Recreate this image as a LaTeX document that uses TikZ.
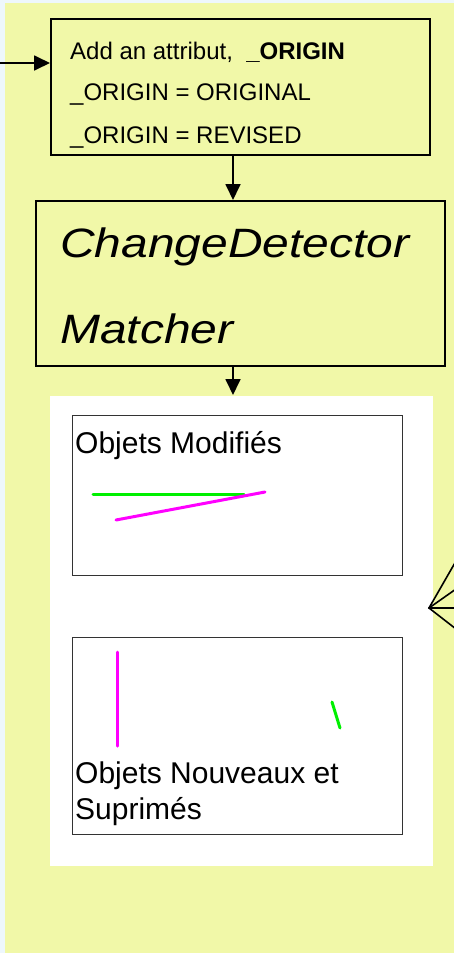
\documentclass[tikz,border=0pt]{standalone}
\usepackage{fontspec}
\setmainfont{Liberation Sans}
\usetikzlibrary{arrows.meta}
\definecolor{bgblue}{HTML}{EEF7FC}
\definecolor{panelyellow}{HTML}{F1F8A8}
\definecolor{linegreen}{HTML}{00F000}
\definecolor{linemagenta}{HTML}{FF00FF}
\definecolor{innerframe}{HTML}{333333}
\tikzset{
  flowbox/.style={draw=black, line width=2pt, fill=panelyellow, inner sep=0pt, anchor=north west},
  innerbox/.style={draw=innerframe, line width=1pt, fill=white, inner sep=0pt, anchor=north west},
  txt/.style={anchor=base west, inner sep=0pt, text=black},
  flowarrow/.style={line width=1.8pt, -{Triangle[length=16pt,width=15pt]}},
  fanline/.style={line width=1.6pt, line cap=round},
  seg/.style={line width=3pt, line cap=round}
}
\begin{document}
\begin{tikzpicture}[x=1pt,y=-1pt]
\useasboundingbox (0,0) rectangle (454,953);
\fill[bgblue] (0,0) rectangle (454,953);
\fill[panelyellow] (5,3) rectangle (454,953);
% white panel
\fill[white] (50,396) rectangle (433,866);
% box 1
\node[flowbox, minimum width=379pt, minimum height=136pt] (b1) at (50,18) {};
\node[txt, font=\fontsize{24}{28}\selectfont] (t1) at (70,59) {Add an attribut,\ \ \textbf{\_ORIGIN}};
\node[txt, font=\fontsize{24}{28}\selectfont] (t2) at (70,100) {\_ORIGIN = ORIGINAL};
\node[txt, font=\fontsize{24}{28}\selectfont] (t3) at (70,143) {\_ORIGIN = REVISED};
% box 2
\node[flowbox, minimum width=409pt, minimum height=165pt] (b2) at (35,200) {};
\node[txt, font=\fontsize{41}{48}\selectfont\itshape] (t4) at (60,257) {\scalebox{1.17}[1]{ChangeDetector}};
\node[txt, font=\fontsize{41}{48}\selectfont\itshape] (t5) at (60,343) {\scalebox{1.17}[1]{Matcher}};
% white result panel anchor
\coordinate (wp) at (233,395);
% inner boxes
\node[innerbox, minimum width=330pt, minimum height=160pt] (m1) at (72,415) {};
\node[txt, font=\fontsize{30}{36}\selectfont] (t6) at (75,453) {Objets Modifiés};
\node[innerbox, minimum width=330pt, minimum height=197pt] (m2) at (72,637) {};
\node[txt, font=\fontsize{30}{36}\selectfont] (t7) at (75,783) {Objets Nouveaux et};
\node[txt, font=\fontsize{30}{36}\selectfont] (t8) at (75,819) {Suprimés};
% coloured segments
\coordinate (g1a) at (93,494); \coordinate (g1b) at (244,494);
\coordinate (p1a) at (116,520); \coordinate (p1b) at (265,492);
\draw[seg, linegreen] (g1a) -- (g1b);
\draw[seg, linemagenta] (p1a) -- (p1b);
\coordinate (p2a) at (117,652); \coordinate (p2b) at (117,746);
\coordinate (g2a) at (332,702); \coordinate (g2b) at (340,728);
\draw[seg, linemagenta] (p2a) -- (p2b);
\draw[seg, linegreen] (g2a) -- (g2b);
% arrows
\coordinate (in) at (0,63);
\draw[flowarrow] (in) -- (b1.west |- in);
\draw[flowarrow] (b1.south -| 233,0) -- (b2.north -| 233,0);
\draw[flowarrow] (b2.south -| 233,0) -- (wp);
% fan at right edge
\coordinate (apex) at (429,608);
\coordinate (f1) at (456,561); \coordinate (f2) at (456,589);
\coordinate (f3) at (456,608); \coordinate (f4) at (456,629);
\begin{scope}
\clip (0,0) rectangle (454,953);
\draw[fanline] (f1) -- (apex) -- (f4);
\draw[fanline] (apex) -- (f2);
\draw[fanline] (apex) -- (f3);
\end{scope}
\end{tikzpicture}
\end{document}
